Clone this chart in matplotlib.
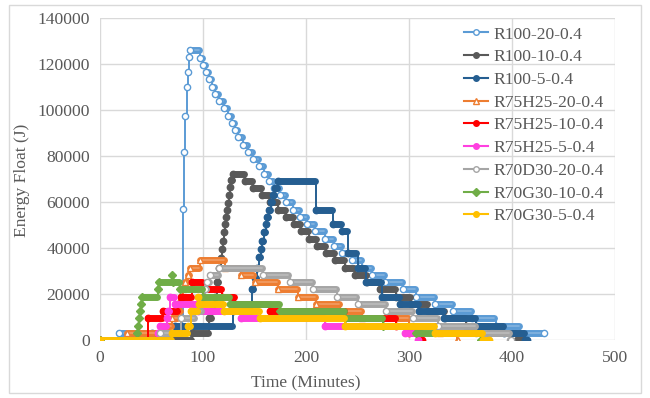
import numpy as np
import matplotlib
matplotlib.use('Agg')
import matplotlib.pyplot as plt
from matplotlib.collections import LineCollection
from matplotlib.lines import Line2D
from matplotlib.patches import Rectangle

plt.rcParams['font.family'] = ['Liberation Serif', 'DejaVu Serif']

# step data: time (min) where each level starts, energy level (J)
t_r100_20 = [0, 18, 80, 81, 82, 83, 84, 85, 86, 87, 97, 100, 103, 106, 109, 112, 116, 120, 124, 128,
             131, 134, 139, 144, 149, 154, 159, 164, 169, 175, 181, 187, 194, 201, 209, 218, 227, 235, 245, 254,
             264, 277, 294, 307, 325, 343, 361, 384, 408, 431]
e_r100_20 = [0, 3150, 9450, 57000, 82000, 97500, 110000, 116500, 123000, 126000, 122850, 119700, 116550,
             113400, 110250, 107100, 103950, 100800, 97650, 94500, 91350, 88200, 85050, 81900, 78750, 75600,
             72450, 69300, 66150, 63000, 59850, 56700, 53550, 50400, 47250, 44100, 40950, 37800, 34650, 31500,
             28350, 25200, 22050, 18900, 15750, 12600, 9450, 6300, 3150, 3150]

t_r100_10 = [0, 89, 106, 109, 112, 114, 116, 117, 118, 119, 120, 121, 122, 123, 124, 125, 126, 127, 129, 141,
             149, 157, 165, 173, 181, 188, 195, 203, 211, 219, 228, 238, 248, 259, 272, 287, 302, 318, 335, 355,
             378, 405, 411]
e_r100_10 = [0, 3150, 9450, 12600, 18900, 25200, 31500, 35500, 39500, 43000, 47000, 50500, 53500, 56500,
             59500, 63000, 66500, 69500, 72450, 69300, 66150, 63000, 59850, 56700, 53550, 50400, 47250, 44100,
             40950, 37800, 34650, 31500, 28350, 25200, 22050, 18900, 15750, 12600, 9450, 6300, 3150, 0, 0]

t_r100_5 = [0, 50, 73, 129, 148, 150, 152, 154, 156, 157, 159, 161, 162, 164, 166, 168, 170, 173, 210, 226,
            235, 241, 250, 258, 274, 291, 310, 334, 365, 392, 413, 415]
e_r100_5 = [0, 3150, 6300, 12600, 22050, 27000, 31500, 36000, 39500, 43000, 47000, 50500, 53500, 56500,
            60000, 63000, 66150, 69300, 56700, 50400, 47250, 37800, 31500, 25200, 18900, 15750, 12600, 9450,
            6300, 3150, 0, 0]

t_h25_20 = [0, 26, 60, 70, 76, 79, 81, 83, 85, 87, 97, 121, 137, 150, 173, 192, 210, 233, 254, 300, 330, 347, 348]
e_h25_20 = [0, 3150, 6300, 9450, 12600, 18900, 22050, 25200, 28350, 31500, 34650, 31500, 28350, 25200,
            22050, 18900, 15750, 12600, 9450, 6300, 3150, 0, 0]

t_h25_10 = [0, 47, 61, 76, 79, 89, 100, 118, 131, 165, 238, 287, 300, 313]
e_h25_10 = [0, 9450, 12600, 15750, 18900, 25200, 22050, 18900, 15750, 12600, 9450, 6300, 3150, 0]

t_h25_5 = [0, 56, 58, 65, 66, 68, 73, 95, 137, 218, 296, 309]
e_h25_5 = [0, 3150, 6300, 9450, 12600, 18900, 15750, 12600, 9450, 6300, 3150, 0]

t_d30_20 = [0, 58, 79, 92, 99, 102, 104, 107, 116, 158, 184, 207, 230, 250, 278, 304, 328, 365, 398, 399]
e_d30_20 = [0, 3150, 9450, 12600, 18900, 22050, 25200, 28350, 31500, 28350, 25200, 22050, 18900, 15750,
            12600, 9450, 6300, 3150, 0, 0]

t_g30_10 = [0, 36, 37, 38, 39, 40, 41, 56, 57, 70, 71, 78, 100, 126, 175, 238, 275, 307, 370]
e_g30_10 = [0, 3150, 6300, 9450, 12600, 15750, 18900, 22050, 25200, 28350, 25200, 22050, 18900, 15750,
            12600, 9450, 6300, 3150, 0]

t_g30_5 = [0, 70, 85, 88, 95, 96, 120, 155, 238, 325, 372, 378]
e_g30_5 = [0, 3150, 6300, 12600, 18900, 15750, 12600, 9450, 6300, 3150, 0, 0]

names = ['R100-20-0.4', 'R100-10-0.4', 'R100-5-0.4', 'R75H25-20-0.4', 'R75H25-10-0.4',
         'R75H25-5-0.4', 'R70D30-20-0.4', 'R70G30-10-0.4', 'R70G30-5-0.4']
times = [t_r100_20, t_r100_10, t_r100_5, t_h25_20, t_h25_10, t_h25_5, t_d30_20, t_g30_10, t_g30_5]
levels = [e_r100_20, e_r100_10, e_r100_5, e_h25_20, e_h25_10, e_h25_5, e_d30_20, e_g30_10, e_g30_5]

colors = ['#5B9BD5', '#595959', '#255E91', '#ED7D31', '#FF0000', '#FF40E0', '#A5A5A5', '#70AD47', '#FFC000']
markers = ['o', 'o', 'o', '^', 'o', 'o', 'o', 'D', 'o']
hollow = [True, False, False, True, False, False, True, False, False]

txt = '#595959'
fs = 12.6

fig = plt.figure(figsize=(6.5, 3.98), dpi=100)
ax = fig.add_axes([100 / 650, 1 - 340 / 398, 515 / 650, (340 - 18.3) / 398])

for k in range(len(names)):
    t = np.array(times[k], dtype=float)
    e = np.array(levels[k], dtype=float)
    c = colors[k]
    z = 2 + k
    ax.step(t, e, where='post', color=c, lw=1.4, zorder=z)
    # plateaus look like a run of overlapping markers
    segs = [[(t[i], e[i]), (t[i + 1] - 1, e[i])] for i in range(len(t) - 1) if t[i + 1] - t[i] > 1]
    lc = LineCollection(segs, colors=c, linewidths=5.0, capstyle='round', zorder=z)
    ax.add_collection(lc)
    if hollow[k]:
        lc2 = LineCollection(segs, colors='white', linewidths=1.2, alpha=0.25, capstyle='round', zorder=z)
        ax.add_collection(lc2)
        ax.plot(t, e, ls='none', marker=markers[k], ms=4.5, mfc='white', mec=c, mew=1, zorder=z)
    else:
        ms = 3.6 if markers[k] == 'D' else 4.6
        ax.plot(t, e, ls='none', marker=markers[k], ms=ms, mfc=c, mec=c, zorder=z)

ax.set_xlim(0, 500)
ax.set_ylim(0, 140000)
ax.set_xticks(np.arange(0, 501, 100))
ax.set_yticks(np.arange(0, 140001, 20000))
ax.grid(True, color='#D9D9D9', lw=1)
ax.set_axisbelow(True)
for s in ax.spines.values():
    s.set_visible(False)
ax.tick_params(length=0, labelsize=fs, labelcolor=txt, pad=7)

fig.text(22 / 650, 1 - 180 / 398, 'Energy Float (J)', rotation=90, ha='center', va='center',
         fontsize=fs, color=txt)
fig.text(306 / 650, 1 - 383 / 398, 'Time (Minutes)', ha='center', va='center', fontsize=fs, color=txt)

handles = []
for k in range(len(names)):
    mfc = 'white' if hollow[k] else colors[k]
    handles.append(Line2D([], [], color=colors[k], lw=1.5, marker=markers[k], ms=4,
                          mfc=mfc, mec=colors[k]))
leg = ax.legend(handles, names, loc='upper left', bbox_to_anchor=(0.707, 0.975), frameon=False,
                fontsize=fs, handlelength=1.35, handletextpad=0.35, labelspacing=0.37,
                borderpad=0, borderaxespad=0)
for tx in leg.get_texts():
    tx.set_color(txt)

fig.patches.append(Rectangle((9 / 650, 5 / 398), 632 / 650, 388 / 398, transform=fig.transFigure,
                             fill=False, ec='#D9D9D9', lw=1))

fig.savefig('out.png', dpi=100)
